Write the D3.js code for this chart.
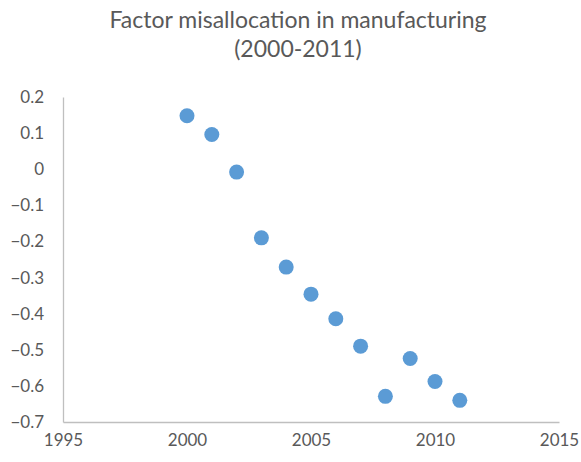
<!DOCTYPE html>
<html><head><meta charset="utf-8">
<script src="https://cdn.jsdelivr.net/npm/d3@7"></script>
<style>body{margin:0;background:#fff}svg{display:block}</style>
</head><body>
<script>
const years = [2000,2001,2002,2003,2004,2005,2006,2007,2008,2009,2010,2011];
const values = [0.148,0.096,-0.008,-0.190,-0.271,-0.346,-0.414,-0.490,-0.629,-0.524,-0.588,-0.640];
const xTicks = [1995,2000,2005,2010,2015];
const yTicks = [0.2,0.1,0,-0.1,-0.2,-0.3,-0.4,-0.5,-0.6,-0.7];
const titleLines = ["Factor misallocation in manufacturing","(2000-2011)"];

const W=581,H=462;
const font = "Lato, 'Open Sans', sans-serif";
const svg = d3.select("body").append("svg").attr("width",W).attr("height",H);
const x = d3.scaleLinear().domain([1995,2015]).range([63,559]);
const y = d3.scaleLinear().domain([-0.7,0.2]).range([422,97]);

svg.append("text").attr("x",298).attr("text-anchor","middle")
  .attr("font-family",font).attr("font-size",23).attr("fill","#595959")
  .selectAll("tspan").data(titleLines).join("tspan")
  .attr("x",298).attr("y",(d,i)=>28+i*29).text(d=>d);

const fmt = d => d===0 ? "0" : d3.format(".1f")(d);
const gy = svg.append("g").attr("transform",`translate(${x(1995)},0)`)
  .call(d3.axisLeft(y).tickValues(yTicks).tickFormat(fmt).tickSize(0).tickPadding(19));
const gx = svg.append("g").attr("transform",`translate(0,${y(-0.7)})`)
  .call(d3.axisBottom(x).tickValues(xTicks).tickFormat(d3.format("d")).tickSize(0).tickPadding(12));
[gx,gy].forEach(g=>{
  g.select(".domain").attr("stroke","#bfbfbf").attr("stroke-width",1.3);
  g.selectAll("text").attr("font-family",font).attr("font-size",17).attr("fill","#595959");
});

svg.append("g").selectAll("circle").data(years).join("circle")
  .attr("cx",(d)=>x(d)).attr("cy",(d,i)=>y(values[i])).attr("r",7.5)
  .attr("fill","#5b9bd5");
</script>
</body></html>
